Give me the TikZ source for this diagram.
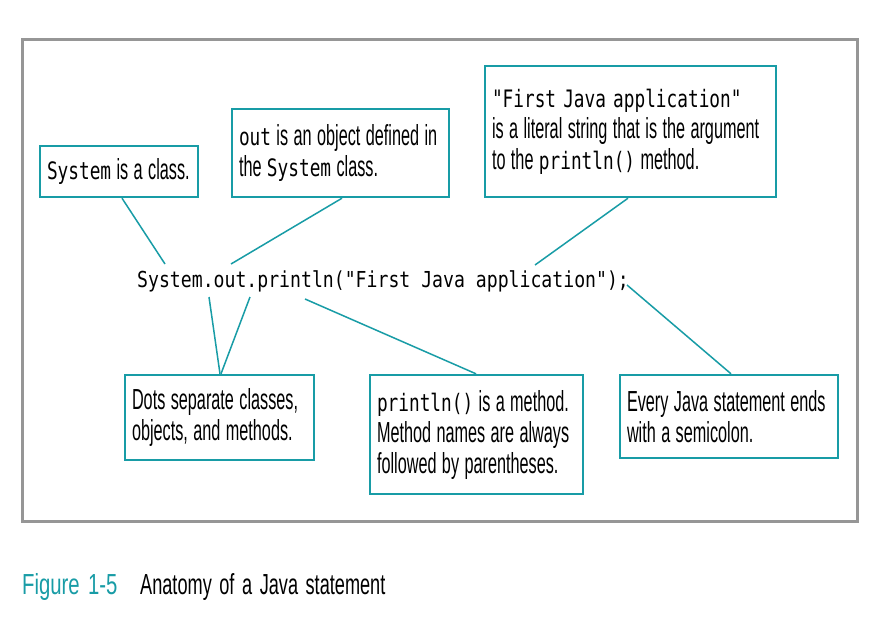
\documentclass[tikz,border=0pt]{standalone}
\usepackage{fontspec}
\usepackage{graphicx}
\setmainfont{Liberation Sans}[WordSpace=1.5]
\newfontfamily\cmono{DejaVu Sans Mono}
\definecolor{teal1}{RGB}{24,156,166}
\definecolor{frame1}{RGB}{150,150,150}
\newcommand{\cc}[1]{\scalebox{0.74}[1]{\cmono\fontsize{24}{31}\selectfont #1}}
\newcommand{\sn}[1]{\scalebox{0.56}[1]{\fontsize{29}{31}\selectfont #1}}
\begin{document}
\begin{tikzpicture}[x=1pt,y=-1pt,
  note/.style={draw=teal1,line width=2.4pt,fill=white,inner xsep=7pt,inner ysep=0pt,
    align=left,anchor=center,font=\fontsize{29}{31}\selectfont},
  link/.style={draw=teal1,line width=1.5pt}]
\useasboundingbox (0,0) rectangle (888,624);
\fill[white] (0,0) rectangle (888,624);
\node[draw=frame1,line width=3pt,minimum width=835pt,minimum height=482pt,inner sep=0pt] (frame) at (439.5,280) {};
% statement
\node[anchor=base west,inner sep=0pt] (stmt) at (137,287)
  {\scalebox{0.825}[1]{\cmono\fontsize{22}{31}\selectfont System.out.println("First Java application");}};
% boxes
\node[note,text width=144pt,minimum height=51pt] (sys) at (119,171.5) {\cc{System}\sn{ is a class.}};
\node[note,text width=203pt,minimum height=88pt] (out) at (340.5,153) {\cc{out}\sn{ is an object defined in}\\\sn{the }\cc{System}\sn{ class.}};
\node[note,text width=277pt,minimum height=131pt] (lit) at (630.5,131.5) {\cc{"First Java application"}\\\sn{is a literal string that is the argument}\\\sn{to the }\cc{println()}\sn{ method.}};
\node[note,text width=175pt,minimum height=85pt] (dots) at (219.5,417.5) {\sn{Dots separate classes,}\\\sn{objects, and methods.}};
\node[note,text width=199pt,minimum height=119pt] (pm) at (476.5,434.5) {\cc{println()}\sn{ is a method.}\\\sn{Method names are always}\\\sn{followed by parentheses.}};
\node[note,text width=204pt,minimum height=83pt] (semi) at (729,416.5) {\sn{Every Java statement ends}\\\sn{with a semicolon.}};
% connector ends
\coordinate (sysE) at (165,264);
\coordinate (outE) at (231,264);
\coordinate (litE) at (535,265);
\coordinate (semiE) at (627,285);
\coordinate (dot1) at (209,297);
\coordinate (dot2) at (250,297);
\coordinate (pmE) at (305,299);
\draw[link] (sys.south -| 122,0) -- (sysE);
\draw[link] (out.south -| 342,0) -- (outE);
\draw[link] (lit.south -| 628,0) -- (litE);
\draw[link] (semiE) -- (semi.north -| 731,0);
\draw[link] (dot1) -- (dots.north -| 220,0);
\draw[link] (dot2) -- (dots.north -| 221,0);
\draw[link] (pmE) -- (pm.north -| 476,0);
% caption
\node[anchor=base west,inner sep=0pt,text=teal1] (fig) at (22,594) {\scalebox{0.70}[1]{\fontsize{29}{34}\selectfont Figure 1-5}};
\node[anchor=base west,inner sep=0pt] (cap) at (140,594) {\scalebox{0.626}[1]{\fontsize{29}{34}\selectfont Anatomy of a Java statement}};
\end{tikzpicture}
\end{document}
